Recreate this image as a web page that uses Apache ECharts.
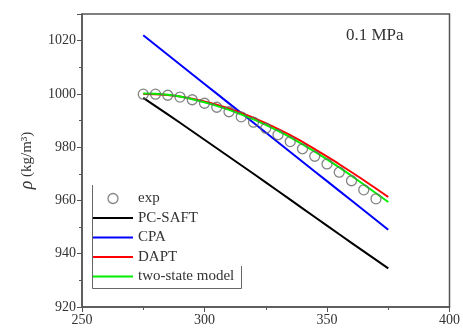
<!DOCTYPE html>
<html><head><meta charset="utf-8">
<script src="https://cdn.jsdelivr.net/npm/echarts@6/dist/echarts.min.js"></script>
<style>html,body{margin:0;padding:0;background:#fff}#c{width:463px;height:331px}</style>
</head><body><div id="c"></div>
<script>
var expT = [275,280,285,290,295,300,305,310,315,320,325,330,335,340,345,350,355,360,365,370];
var expRho = [999.9,999.9,999.5,998.8,997.8,996.5,995.0,993.3,991.4,989.4,987.1,984.7,982.1,979.4,976.6,973.7,970.6,967.4,964.0,960.6];
var modelT = [275,285,295,305,315,325,335,345,355,365,375];
var pcsaft = [998.5,992.3,986.0,979.6,973.2,966.8,960.3,953.8,947.3,940.9,934.5];
var cpa = [1022,1014.7,1007.4,1000.1,992.8,985.5,978.2,970.9,963.6,956.3,949.0];
var dapt = [1000.0,999.6,998.2,995.9,992.9,989.0,984.5,979.3,973.6,967.6,961.3];
var twoState = [1000.2,999.7,998.0,995.5,992.3,988.4,983.7,978.3,972.4,966.0,959.4];
var xTicks = [250,300,350,400];
var yTicks = [920,940,960,980,1000,1020];

function pairs(xs, ys){ return xs.map(function(x,i){ return [x, ys[i]]; }); }
var serif = '"Liberation Serif","DejaVu Serif",serif';
var hide = {opacity:0};
var chart = echarts.init(document.getElementById('c'));
chart.setOption({
  animation:false,
  backgroundColor:'#fff',
  title:{text:'0.1 MPa', left:341, top:22, textStyle:{fontFamily:serif, fontSize:17, fontWeight:'normal', color:'#333'}},
  grid:{left:82, right:10, top:14, bottom:24, show:true, borderColor:'#555', borderWidth:1.5},
  graphic:[{type:'polyline', z:10, silent:true,
    shape:{points:[[92.5,185],[92.5,288.5],[241.5,288.5],[241.5,266]]},
    style:{stroke:'#666', lineWidth:1, fill:null}}],
  legend:{
    orient:'vertical', left:92, top:191, itemWidth:40, itemHeight:10, itemGap:4.5,
    padding:0,
    textStyle:{fontFamily:serif, fontSize:15, color:'#333'},
    data:[
      {name:'exp', icon:'circle', itemStyle:{color:'#fff', borderColor:'#666', borderWidth:1.3}},
      {name:'PC-SAFT', itemStyle:hide},
      {name:'CPA', itemStyle:hide},
      {name:'DAPT', itemStyle:hide},
      {name:'two-state model', itemStyle:hide}]
  },
  xAxis:{type:'value', min:250, max:400, interval:50,
    axisLine:{lineStyle:{color:'#555', width:1.5}},
    axisTick:{show:true, length:5, lineStyle:{color:'#555'}},
    minorTick:{show:true, splitNumber:2, length:3, lineStyle:{color:'#555'}},
    splitLine:{show:false},
    axisLabel:{fontFamily:serif, fontSize:14, color:'#333', margin:6}},
  yAxis:{type:'value', min:920, max:1030, interval:20,
    name:'{r|ρ} (kg/m³)', nameLocation:'middle', nameGap:46, nameRotate:90,
    nameTextStyle:{fontFamily:serif, fontSize:15, color:'#333', rich:{r:{fontFamily:serif, fontSize:18, fontStyle:'italic', color:'#333'}}},
    axisLine:{show:true, lineStyle:{color:'#555', width:1.5}},
    axisTick:{show:true, length:5, lineStyle:{color:'#555'}},
    minorTick:{show:true, splitNumber:2, length:3, lineStyle:{color:'#555'}},
    splitLine:{show:false},
    axisLabel:{fontFamily:serif, fontSize:14, color:'#333', margin:6,
      formatter:function(v){ return yTicks.indexOf(v)>=0 ? String(v) : ''; }}},
  series:[
    {name:'exp', type:'scatter', data:pairs(expT, expRho), symbol:'circle', symbolSize:10, z:5,
      itemStyle:{color:'rgba(0,0,0,0)', borderColor:'#666', borderWidth:1.3}},
    {name:'PC-SAFT', type:'line', data:pairs(modelT, pcsaft), symbol:'none', smooth:true, lineStyle:{color:'#000', width:2}, itemStyle:{color:'#000'}},
    {name:'CPA', type:'line', data:pairs(modelT, cpa), symbol:'none', smooth:true, lineStyle:{color:'#0000ff', width:2}, itemStyle:{color:'#0000ff'}},
    {name:'DAPT', type:'line', data:pairs(modelT, dapt), symbol:'none', smooth:true, lineStyle:{color:'#ff0000', width:2}, itemStyle:{color:'#ff0000'}},
    {name:'two-state model', type:'line', data:pairs(modelT, twoState), symbol:'none', smooth:true, lineStyle:{color:'#00ee00', width:2}, itemStyle:{color:'#00ee00'}}
  ]
});
</script></body></html>
